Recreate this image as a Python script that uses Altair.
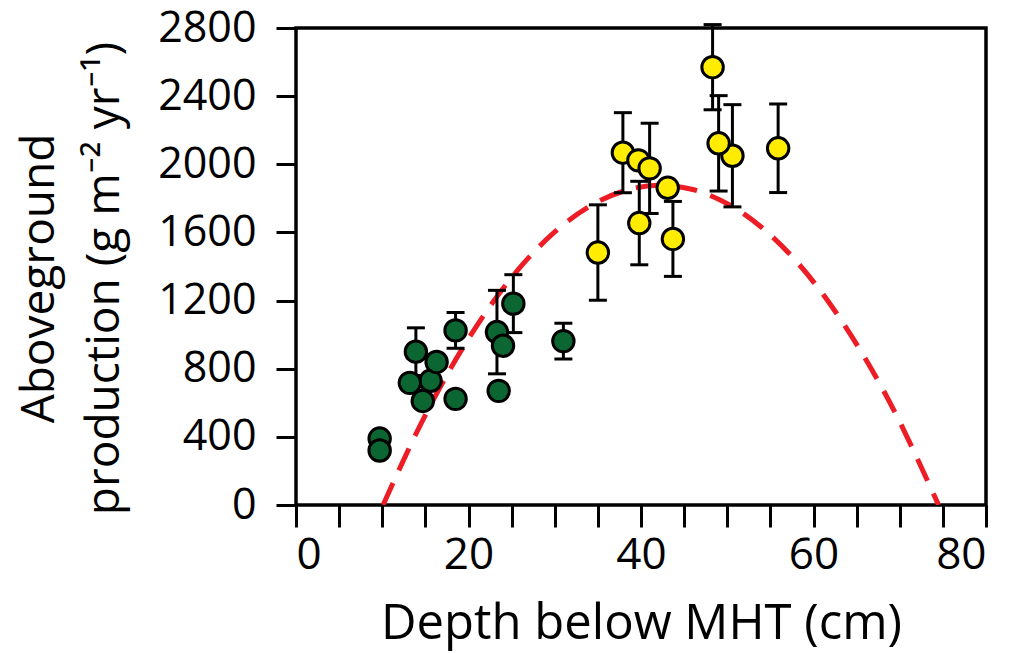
import altair as alt
import pandas as pd

# Green group (shallow)
green_x = [15.6, 13.2, 14.7, 9.7, 9.7, 13.9, 16.3, 18.5, 18.5, 23.3, 23.5, 24.0, 25.2, 31.0]
green_y = [729, 717, 611, 390, 320, 900, 840, 1025, 623, 1015, 670, 935, 1182, 962]
green_err = [0, 0, 0, 0, 0, 140, 0, 105, 0, 245, 0, 0, 170, 105]

# Yellow group (deep)
yellow_x = [35.0, 37.9, 39.7, 41.0, 39.8, 43.1, 43.7, 48.3, 50.6, 49.0, 55.9]
yellow_y = [1482, 2068, 2023, 1976, 1655, 1862, 1562, 2570, 2050, 2123, 2094]
yellow_err = [280, 235, 0, 265, 245, 0, 220, 250, 300, 280, 260]

# Dashed fitted curve
curve_x = [10.1, 14, 18, 22, 26, 30, 34, 38, 42, 46, 50, 54, 58, 62, 66, 70, 74.5]
curve_y = [0, 427, 808, 1131, 1396, 1603, 1752, 1843, 1877, 1852, 1769, 1629, 1431, 1174, 860, 488, 0]

x_ticks = list(range(0, 81, 5))
y_ticks = list(range(0, 2801, 400))

pts = pd.DataFrame({
    "x": green_x + yellow_x,
    "y": green_y + yellow_y,
    "err": green_err + yellow_err,
    "grp": ["green"] * len(green_x) + ["yellow"] * len(yellow_x),
    "order": list(range(len(green_x) + len(yellow_x))),
})
pts["lo"] = pts["y"] - pts["err"]
pts["hi"] = pts["y"] + pts["err"]
curve = pd.DataFrame({"x": curve_x, "y": curve_y})

FONT = "Open Sans"

xscale = alt.Scale(domain=[0, 80], nice=False, zero=False)
yscale = alt.Scale(domain=[0, 2800], nice=False)

xaxis = alt.Axis(
    values=x_ticks,
    labelExpr="datum.value % 20 == 0 ? datum.label : ''",
    title="Depth below MHT (cm)",
    grid=False, domain=False,
    tickSize=22, tickWidth=3, tickColor="black",
    labelFont=FONT, labelFontSize=44, labelColor="black", labelPadding=6,
    titleFont=FONT, titleFontSize=49, titleFontWeight="normal", titleColor="black",
    titleBaseline="alphabetic", titleY=133,
)
yaxis = alt.Axis(
    values=y_ticks,
    format="d",
    title=["Aboveground", "production (g m\u207b\u00b2 yr\u207b\u00b9)"],
    grid=False, domain=False,
    tickSize=20, tickWidth=3, tickColor="black",
    labelFont=FONT, labelFontSize=43, labelColor="black", labelPadding=20,
    titleFont=FONT, titleFontSize=46, titleFontWeight="normal", titleColor="black",
    titleAngle=270, titleAlign="center", titleBaseline="alphabetic",
    titleX=-243, titleY=250, titleLineHeight=65,
)

base = alt.Chart(pts)

line = alt.Chart(curve).mark_line(
    color="#EE1C25", strokeWidth=5, strokeDash=[24, 14], interpolate="natural", clip=True
).encode(
    x=alt.X("x:Q", scale=xscale, axis=xaxis),
    y=alt.Y("y:Q", scale=yscale, axis=yaxis),
)

bars = base.transform_filter("datum.err > 0").mark_rule(color="black", strokeWidth=3, opacity=1).encode(
    x="x:Q", y="lo:Q", y2="hi:Q"
)
cap_lo = base.transform_filter("datum.err > 0").mark_tick(
    color="black", thickness=3, size=18, orient="horizontal", opacity=1
).encode(x="x:Q", y="lo:Q")
cap_hi = base.transform_filter("datum.err > 0").mark_tick(
    color="black", thickness=3, size=18, orient="horizontal", opacity=1
).encode(x="x:Q", y="hi:Q")

dots = base.mark_point(filled=True, shape="circle", size=460, stroke="black", strokeWidth=3, opacity=1).encode(
    x="x:Q",
    y="y:Q",
    fill=alt.Fill("grp:N", scale=alt.Scale(domain=["green", "yellow"], range=["#0B6632", "#FFEC00"]), legend=None),
    order="order:Q",
)

chart = alt.layer(line, bars, cap_lo, cap_hi, dots).properties(
    width=690, height=477,
    background="white",
    autosize=alt.AutoSizeParams(type="none"),
    padding={"left": 288, "top": 20, "right": 27, "bottom": 146},
).configure_view(stroke="black", strokeWidth=3.5)

chart.save("out.html", embed_options={"renderer": "svg", "actions": False})
